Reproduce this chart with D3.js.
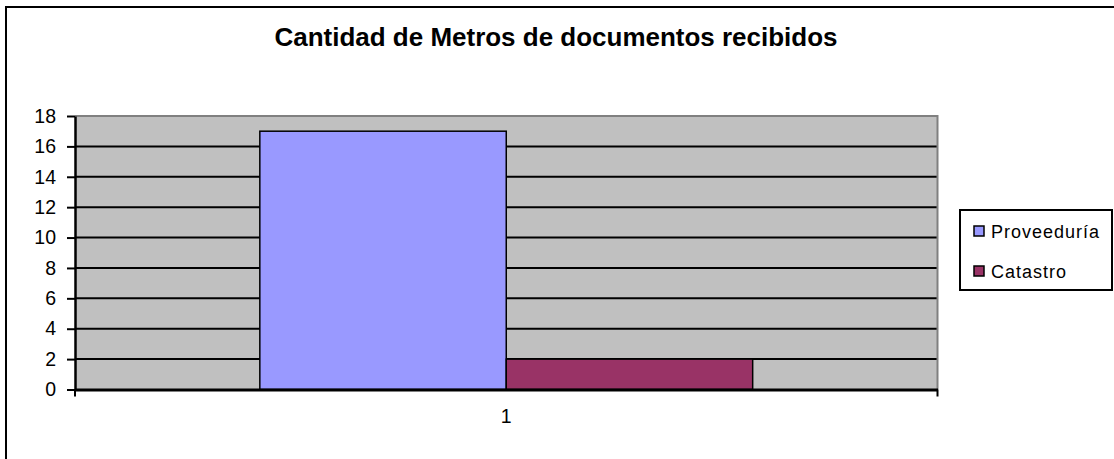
<!DOCTYPE html>
<html>
<head>
<meta charset="utf-8">
<script src="https://cdn.jsdelivr.net/npm/d3@7"></script>
<style>
  body { margin: 0; background: #fff; }
  svg { display: block; font-family: "Liberation Sans", Arial, sans-serif; }
</style>
</head>
<body>
<svg width="1114" height="459"></svg>
<script>
// chart data
var categories = ["1"];
var seriesNames = ["Proveeduría", "Catastro"];
var seriesValues = [17, 2];
var seriesColors = ["#9999FF", "#993366"];
var yTicks = [0, 2, 4, 6, 8, 10, 12, 14, 16, 18];
var title = "Cantidad de Metros de documentos recibidos";

var svg = d3.select("svg");

// outer chart frame (right/bottom edges fall outside the picture)
svg.append("rect")
    .attr("x", 6).attr("y", 7)
    .attr("width", 1130).attr("height", 470)
    .attr("fill", "#fff")
    .attr("stroke", "#000")
    .attr("stroke-width", 2);

var plot = {left: 75, right: 937.5, top: 116, bottom: 389.5};

var x0 = d3.scaleBand().domain(categories).range([plot.left, plot.right]).padding(0);
var x1 = d3.scaleBand().domain(seriesNames).range([0, x0.bandwidth()])
    .paddingInner(0).paddingOuter(0.75);
var y = d3.scaleLinear().domain([0, 18]).range([plot.bottom, plot.top]);

// plot background
svg.append("rect")
    .attr("x", plot.left).attr("y", plot.top)
    .attr("width", plot.right - plot.left).attr("height", plot.bottom - plot.top)
    .attr("fill", "#C0C0C0");

// gridlines
svg.append("g").selectAll("line")
    .data(yTicks.filter(function(d){ return d > 0 && d < 18; }))
    .enter().append("line")
    .attr("x1", plot.left).attr("x2", plot.right)
    .attr("y1", function(d){ return y(d); })
    .attr("y2", function(d){ return y(d); })
    .attr("stroke", "#000").attr("stroke-width", 2);

// gray top & right border of plot area
svg.append("path")
    .attr("d", "M" + plot.left + "," + plot.top + "H" + plot.right + "V" + plot.bottom)
    .attr("fill", "none").attr("stroke", "#808080").attr("stroke-width", 2);

// bars
var bars = seriesNames.map(function(s, i){ return {name: s, value: seriesValues[i], color: seriesColors[i]}; });
svg.append("g").selectAll("rect")
    .data(bars)
    .enter().append("rect")
    .attr("x", function(d){ return x0(categories[0]) + x1(d.name); })
    .attr("y", function(d){ return y(d.value); })
    .attr("width", x1.bandwidth())
    .attr("height", function(d){ return y(0) - y(d.value); })
    .attr("fill", function(d){ return d.color; })
    .attr("stroke", "#000").attr("stroke-width", 1.5);

// y axis
var yAxis = svg.append("g")
    .attr("transform", "translate(" + plot.left + ",0)")
    .call(d3.axisLeft(y).tickValues(yTicks).tickSize(8).tickPadding(11).tickSizeOuter(0));
yAxis.select(".domain").attr("stroke-width", 2.5);
yAxis.selectAll(".tick line").attr("stroke-width", 2);
yAxis.selectAll("text")
    .style("font-size", "19.5px")
    .style("font-family", "Liberation Sans, Arial, sans-serif")
    .attr("fill", "#000");

// x axis
var xAxis = svg.append("g")
    .attr("transform", "translate(0," + plot.bottom + ")")
    .call(d3.axisBottom(x0).tickSize(0).tickPadding(20).tickSizeOuter(0));
xAxis.select(".domain").attr("stroke-width", 3);
xAxis.selectAll("text")
    .style("font-size", "19.5px")
    .style("font-family", "Liberation Sans, Arial, sans-serif")
    .attr("fill", "#000");
// boundary ticks of the category axis
xAxis.selectAll(".edge")
    .data([plot.left, plot.right])
    .enter().append("line")
    .attr("x1", function(d){ return d; }).attr("x2", function(d){ return d; })
    .attr("y1", 0).attr("y2", 7)
    .attr("stroke", "#000").attr("stroke-width", 2);

// title
svg.append("text")
    .attr("x", 556).attr("y", 46)
    .attr("text-anchor", "middle")
    .attr("font-weight", "bold")
    .attr("font-size", "25px")
    .attr("textLength", 563)
    .attr("lengthAdjust", "spacingAndGlyphs")
    .text(title);

// legend
var legend = svg.append("g");
legend.append("rect")
    .attr("x", 960).attr("y", 210)
    .attr("width", 152).attr("height", 80)
    .attr("fill", "#fff").attr("stroke", "#000").attr("stroke-width", 2);
var items = legend.selectAll(".item")
    .data(bars)
    .enter().append("g")
    .attr("transform", function(d, i){ return "translate(974," + (226 + i * 40) + ")"; });
items.append("rect")
    .attr("width", 10).attr("height", 10)
    .attr("fill", function(d){ return d.color; })
    .attr("stroke", "#000").attr("stroke-width", 1.5);
items.append("text")
    .attr("x", 17).attr("y", 11.5)
    .attr("font-size", "18px")
    .attr("letter-spacing", "1px")
    .text(function(d){ return d.name; });
</script>
</body>
</html>
